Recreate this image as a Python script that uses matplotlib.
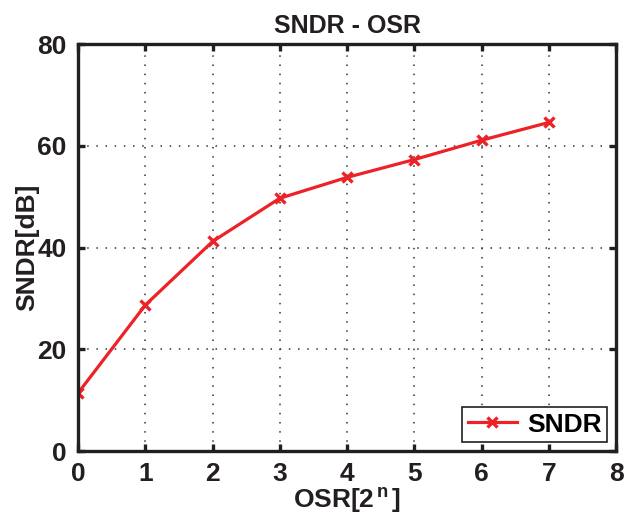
import matplotlib
matplotlib.use("Agg")
import matplotlib.pyplot as plt

plt.rcParams['font.family'] = ['Liberation Sans', 'DejaVu Sans']
plt.rcParams['font.weight'] = 'bold'
plt.rcParams['mathtext.fontset'] = 'custom'
plt.rcParams['mathtext.rm'] = 'Liberation Sans:bold'
plt.rcParams['mathtext.bf'] = 'Liberation Sans:bold'
plt.rcParams['mathtext.it'] = 'Liberation Sans:bold'
plt.rcParams['mathtext.default'] = 'rm'

# data
osr_n = [0, 1, 2, 3, 4, 5, 6, 7]
sndr = [11.4, 28.7, 41.2, 49.7, 53.8, 57.3, 61.1, 64.6]

fig = plt.figure(figsize=(6.34, 5.18), dpi=100)
ax = fig.add_axes([0.123, 0.129, 0.849, 0.786])

ax.plot(osr_n, sndr, color='#ec2227', linewidth=2.3, marker='x',
        markersize=7, markeredgewidth=2.4, label='SNDR')

ax.set_xlim(0, 8)
ax.set_ylim(0, 80)
ax.set_xticks(range(0, 9))
ax.set_yticks([0, 20, 40, 60, 80])
ax.grid(True, linestyle=(0, (1, 5)), color='#333333', linewidth=1.1)

for s in ax.spines.values():
    s.set_linewidth(2.4)
    s.set_color('#231f20')
ax.tick_params(direction='in', length=5, width=2.4, top=True, right=True,
               labelsize=19, pad=8, color='#231f20', labelcolor='#231f20')

ax.set_title('SNDR - OSR', fontsize=18, fontweight='bold', pad=8, color='#231f20')
ax.set_xlabel('OSR[2$^{\\,n\\,}$]', fontsize=19, fontweight='bold', labelpad=0, color='#231f20')
ax.set_ylabel('SNDR[dB]', fontsize=19, fontweight='bold', labelpad=-1, color='#231f20')

leg = ax.legend(loc='lower right', fontsize=19, fancybox=False, framealpha=1,
                edgecolor='#231f20', borderpad=0.2, handlelength=1.85,
                handletextpad=0.4, borderaxespad=0.35)
leg.get_frame().set_linewidth(1.2)

fig.savefig('out.png', dpi=100)
